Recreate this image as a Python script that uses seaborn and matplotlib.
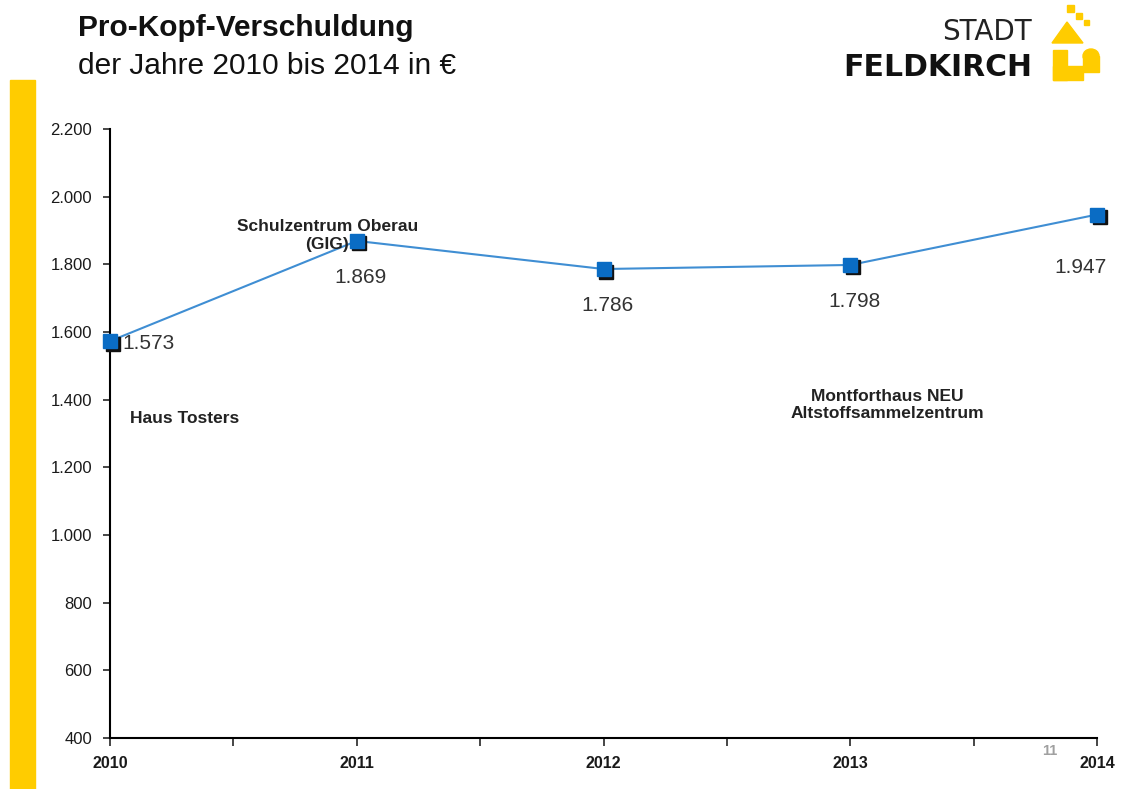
import matplotlib
matplotlib.use("Agg")
import matplotlib.pyplot as plt
import matplotlib.transforms as mtransforms
from matplotlib.patches import Rectangle, Polygon, Ellipse
from matplotlib.ticker import FuncFormatter, MultipleLocator
import seaborn as sns
import pandas as pd

# Daten
jahre = [2010, 2011, 2012, 2013, 2014]
verschuldung = [1573, 1869, 1786, 1798, 1947]
y_ticks = [400, 600, 800, 1000, 1200, 1400, 1600, 1800, 2000, 2200]

df = pd.DataFrame({"Jahr": jahre, "Euro": verschuldung})

sns.set_style("ticks")
plt.rcParams["font.family"] = ["Liberation Sans", "DejaVu Sans"]

fig = plt.figure(figsize=(11.23, 7.89), dpi=100)
ax = fig.add_axes([0.098, 0.0646, 0.879, 0.772])

# Linie + Marker (mit Schatten)
sns.lineplot(data=df, x="Jahr", y="Euro", ax=ax, color="#3F8ED3",
             linewidth=1.5, zorder=2)
shadow = mtransforms.offset_copy(ax.transData, fig=fig, x=2.5, y=-2.5, units="dots")
ax.plot(df["Jahr"], df["Euro"], linestyle="none", marker="s", markersize=10,
        color="#111111", transform=shadow, zorder=3, clip_on=False)
ax.plot(df["Jahr"], df["Euro"], linestyle="none", marker="s", markersize=10,
        color="#0A6CC4", markeredgecolor="#0A6CC4", zorder=4, clip_on=False)

# Datenbeschriftungen
fmt = lambda v: f"{v:,.0f}".replace(",", ".")
ax.annotate(fmt(verschuldung[0]), (jahre[0], verschuldung[0]), xytext=(9, -2),
            textcoords="offset points", ha="left", va="center", fontsize=15, color="#333333")
for j, v in zip(jahre[1:4], verschuldung[1:4]):
    ax.annotate(fmt(v), (j, v), xytext=(3, -26), textcoords="offset points",
                ha="center", va="center", fontsize=15, color="#333333")
ax.annotate(fmt(verschuldung[4]), (jahre[4], verschuldung[4]), xytext=(-12, -38),
            textcoords="offset points", ha="center", va="center", fontsize=15, color="#333333")

# Projekt-Hinweise
ax.text(2010.08, 1345, "Haus Tosters", fontsize=12.5, fontweight="bold",
        ha="left", va="center", color="#222222")
ax.text(2010.88, 1885, "Schulzentrum Oberau\n(GIG)", fontsize=12.5, fontweight="bold",
        ha="center", va="center", color="#222222", linespacing=1.3)
ax.text(2013.15, 1385, "Montforthaus NEU\nAltstoffsammelzentrum", fontsize=12.5,
        fontweight="bold", ha="center", va="center", color="#222222", linespacing=1.2)

# Achsen
ax.set_xlim(2010, 2014)
ax.set_ylim(400, 2200)
ax.set_xticks(jahre)
ax.xaxis.set_minor_locator(MultipleLocator(0.5))
ax.set_yticks(y_ticks)
ax.yaxis.set_major_formatter(FuncFormatter(lambda v, p: fmt(v)))
ax.set_xlabel("")
ax.set_ylabel("")
sns.despine(ax=ax)
for s in ["left", "bottom"]:
    ax.spines[s].set_color("black")
    ax.spines[s].set_linewidth(1.5)
ax.tick_params(axis="y", labelsize=12, length=5, width=1.2, direction="out", pad=8,
               labelcolor="#1a1a1a")
ax.tick_params(axis="x", which="both", length=6, width=1.2, direction="out", pad=7)
for lbl in ax.get_xticklabels():
    lbl.set_fontweight("bold")
    lbl.set_fontsize(11.5)
    lbl.set_color("#1a1a1a")

# Gelber Balken links
W, H = 1123, 789
gelb = "#FFCC00"
fig.patches.append(Rectangle((10 / W, 0), 25 / W, 1 - 80 / H,
                             transform=fig.transFigure, color=gelb, zorder=0))

# Titel
fig.text(78 / W, 1 - 28 / H, "Pro-Kopf-Verschuldung", fontsize=21.5,
         fontweight="bold", ha="left", va="center", color="#111111")
fig.text(78 / W, 1 - 66 / H, "der Jahre 2010 bis 2014 in €", fontsize=21.5,
         ha="left", va="center", color="#111111")

# Logo
fig.text(1032 / W, 1 - 32 / H, "STADT", fontsize=20, ha="right", va="center",
         color="#222222", family="DejaVu Sans")
fig.text(1032 / W, 1 - 68 / H, "FELDKIRCH", fontsize=21.5, fontweight="bold",
         ha="right", va="center", color="#111111", family="DejaVu Sans")


def fig_rect(x, y, w, h):
    fig.patches.append(Rectangle((x / W, 1 - (y + h) / H), w / W, h / H,
                                 transform=fig.transFigure, color=gelb))


fig_rect(1067, 5, 7, 7)
fig_rect(1076, 13, 6, 6)
fig_rect(1084, 20, 5, 5)
fig.patches.append(Polygon([(1052 / W, 1 - 43 / H), (1083 / W, 1 - 43 / H), (1067 / W, 1 - 22 / H)],
                           closed=True, transform=fig.transFigure, color=gelb))
fig_rect(1053, 50, 14, 30)
fig_rect(1053, 66, 30, 14)
fig_rect(1083, 56, 16, 16)
fig.patches.append(Ellipse((1091 / W, 1 - 56 / H), 16 / W, 14 / H,
                           transform=fig.transFigure, color=gelb))

# Seitenzahl
fig.text(1050 / W, 1 - 751 / H, "11", fontsize=10.5, fontweight="bold",
         color="#A0A0A0", ha="center", va="center")

fig.savefig("out.png", dpi=100)
